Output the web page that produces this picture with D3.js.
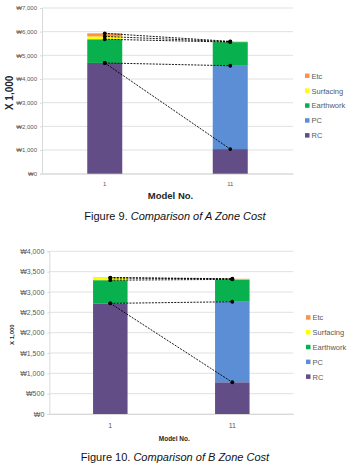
<!DOCTYPE html>
<html lang="en">
<head>
<meta charset="UTF-8">
<title>Zone Cost Comparison</title>
<style>
  body, html { margin: 0; background: #fff; overflow: hidden; }
  svg { display: block; }
</style>
</head>
<body>
<div id="chart"></div>
<script src="https://cdn.jsdelivr.net/npm/d3@7"></script>
<script>
// categories and series (values in KRW x 1,000)
const models = ["1", "11"];
const series = ["RC", "PC", "Earthwork", "Surfacing", "Etc"];
const colors = ["#634d87", "#5b8ed4", "#08b04e", "#ffff00", "#f7964a"];

const zoneA_RC = [4680, 1040];
const zoneA_PC = [0, 3520];
const zoneA_Earthwork = [1000, 1000];
const zoneA_Surfacing = [120, 15];
const zoneA_Etc = [130, 15];
const zoneA_ticks = [0, 1000, 2000, 3000, 4000, 5000, 6000, 7000];

const zoneB_RC = [2720, 780];
const zoneB_PC = [0, 1980];
const zoneB_Earthwork = [570, 550];
const zoneB_Surfacing = [55, 10];
const zoneB_Etc = [10, 5];
const zoneB_ticks = [0, 500, 1000, 1500, 2000, 2500, 3000, 3500, 4000];

const svg = d3.select("#chart").append("svg")
  .attr("width", 349).attr("height", 463)
  .style("font-family", "Arial, 'Liberation Sans', sans-serif");

function drawChart(cfg) {
  const g = svg.append("g");
  const x = d3.scaleBand().domain(models).range([cfg.left, cfg.right]);
  const y = d3.scaleLinear().domain([0, d3.max(cfg.ticks)]).range([cfg.bottom, cfg.top]);

  // gridlines
  g.selectAll(".grid").data(cfg.ticks).enter().append("line")
    .attr("x1", cfg.left).attr("x2", cfg.right)
    .attr("y1", d => y(d)).attr("y2", d => y(d))
    .attr("stroke", "#d9d9d9").attr("stroke-width", 0.8);

  // y axis
  const yAxis = d3.axisLeft(y).tickValues(cfg.ticks).tickSize(2)
    .tickFormat(d => "\u20A9" + d3.format(",")(d));
  const ya = g.append("g").attr("transform", `translate(${cfg.left},0)`).call(yAxis);
  ya.select(".domain").attr("stroke", "#d9d9d9");
  ya.selectAll(".tick line").attr("stroke", "#d9d9d9");
  ya.selectAll("text").attr("fill", "#595959").attr("font-size", cfg.tickSize);

  // x axis
  const xa = g.append("g").attr("transform", `translate(0,${cfg.bottom})`)
    .call(d3.axisBottom(x).tickSize(0).tickPadding(cfg.xPad));
  xa.select(".domain").attr("stroke", "#d9d9d9");
  xa.selectAll("text").attr("fill", "#595959").attr("font-size", cfg.tickSize);

  // stacked bars
  const rows = models.map((m, i) => {
    const r = { model: m };
    series.forEach((s, k) => r[s] = cfg.data[k][i]);
    return r;
  });
  const stacked = d3.stack().keys(series)(rows);
  const bw = cfg.barW;
  g.selectAll(".layer").data(stacked).enter().append("g")
    .attr("fill", (d, i) => colors[i])
    .selectAll("rect").data(d => d).enter().append("rect")
    .attr("x", d => x(d.data.model) + x.bandwidth() / 2 - bw / 2)
    .attr("width", bw)
    .attr("y", d => y(d[1]))
    .attr("height", d => y(d[0]) - y(d[1]));

  // dashed series lines joining cumulative tops
  const line = d3.line()
    .x(d => x(d.data.model) + x.bandwidth() / 2)
    .y(d => y(d[1]));
  stacked.forEach(layer => {
    g.append("path").attr("d", line(layer))
      .attr("fill", "none").attr("stroke", "#000")
      .attr("stroke-width", 0.9).attr("stroke-dasharray", "2,1.2");
    g.selectAll(null).data(layer).enter().append("circle")
      .attr("cx", d => x(d.data.model) + x.bandwidth() / 2)
      .attr("cy", d => y(d[1]))
      .attr("r", 1.9).attr("fill", "#000");
  });

  // axis titles
  g.append("text")
    .attr("transform", `translate(${cfg.yTitleX},${(cfg.top + cfg.bottom) / 2 + 2}) rotate(-90)`)
    .attr("text-anchor", "middle").attr("font-weight", "bold")
    .attr("font-size", cfg.yTitleSize).attr("fill", "#262626")
    .text("X 1,000");
  g.append("text")
    .attr("x", (cfg.left + cfg.right) / 2 + 3).attr("y", cfg.xTitleY)
    .attr("text-anchor", "middle").attr("font-weight", "bold")
    .attr("font-size", cfg.xTitleSize).attr("fill", "#262626")
    .text("Model No.");

  // legend (reverse order: Etc on top)
  const leg = g.selectAll(".leg").data(series.slice().reverse()).enter().append("g")
    .attr("transform", (d, i) => `translate(${cfg.legX},${cfg.legY + i * cfg.legStep})`);
  leg.append("rect").attr("x", 0).attr("y", -2.5).attr("width", 4.5).attr("height", 4.5)
    .attr("fill", d => colors[series.indexOf(d)]);
  leg.append("text").attr("x", 6.5).attr("y", 0).attr("dy", "0.35em")
    .attr("font-size", cfg.legSize).attr("fill", "#595959").text(d => d);

  // caption
  const cap = svg.append("text")
    .attr("x", 175).attr("y", cfg.capY).attr("text-anchor", "middle")
    .attr("font-size", 11).attr("fill", "#111");
  cap.append("tspan").text(cfg.capNum + " ");
  cap.append("tspan").attr("font-style", "italic").text(cfg.capText);
}

drawChart({
  data: [zoneA_RC, zoneA_PC, zoneA_Earthwork, zoneA_Surfacing, zoneA_Etc],
  ticks: zoneA_ticks,
  left: 42, right: 293, top: 8, bottom: 173.7, barW: 35,
  tickSize: 6, xPad: 8, yTitleX: 13, yTitleSize: 10, xTitleY: 199, xTitleSize: 9.5,
  legX: 305, legY: 76, legStep: 14.9, legSize: 7.5,
  capY: 220, capNum: "Figure 9.", capText: "Comparison of A Zone Cost"
});

drawChart({
  data: [zoneB_RC, zoneB_PC, zoneB_Earthwork, zoneB_Surfacing, zoneB_Etc],
  ticks: zoneB_ticks,
  left: 49.3, right: 293.3, top: 251.3, bottom: 414, barW: 34.5,
  tickSize: 7, xPad: 9, yTitleX: 14, yTitleSize: 6, xTitleY: 441, xTitleSize: 6.5,
  legX: 306, legY: 317.7, legStep: 14.8, legSize: 7.5,
  capY: 461, capNum: "Figure 10.", capText: "Comparison of B Zone Cost"
});
</script>
</body>
</html>
